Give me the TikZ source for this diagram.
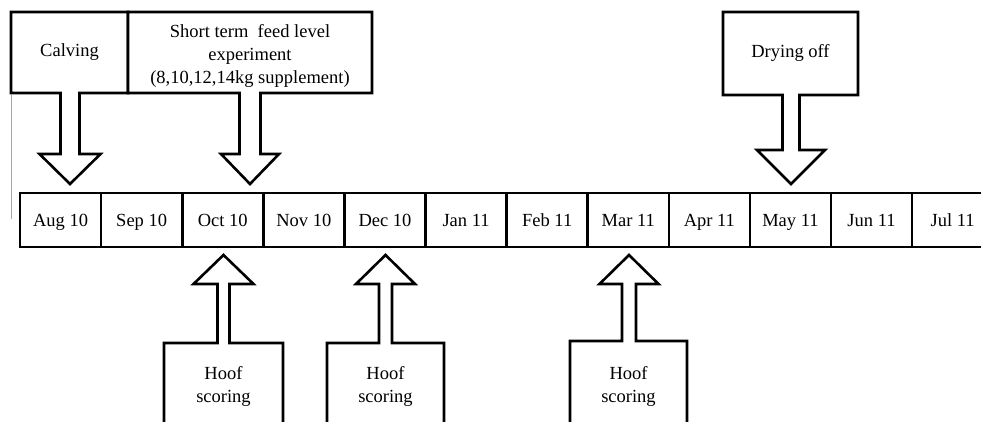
\documentclass[tikz,border=0pt]{standalone}
\usepackage{fontspec}
\setmainfont{Liberation Serif}
\begin{document}
\begin{tikzpicture}[x=1pt,y=-1pt,
  outline/.style={line width=2.6pt,line join=miter,draw=black,fill=white},
  cell/.style={draw=black,line width=2.6pt,minimum width=81.1pt,minimum height=54pt,inner sep=0pt,outer sep=0pt,anchor=west},
  lbl/.style={font=\fontsize{18.5}{23}\selectfont,align=center,inner sep=0pt},
  mlbl/.style={lbl,text height=12.5pt,text depth=4.5pt,yshift=-2.5pt},
  thin/.style={draw=gray!70,line width=1pt}]
\useasboundingbox (0,0) rectangle (981,422);
\clip (0,0) rectangle (981,422);
\fill[white] (0,0) rectangle (981,422);
% thin left line
\coordinate (t1) at (11.5,95);
\coordinate (t2) at (11.5,219);
\draw[thin] (t1) -- (t2);
% down callouts: L,R,T,B, cx, sw, hw, hb, ty
\newcommand{\downcall}[9]{%
  \draw[outline] (#1,#3) -- (#2,#3) -- (#2,#4) -- (#5+#6,#4) -- (#5+#6,#8) -- (#5+#7,#8) -- (#5,#9)
    -- (#5-#7,#8) -- (#5-#6,#8) -- (#5-#6,#4) -- (#1,#4) -- cycle;}
\newcommand{\upcall}[8]{%
  \draw[outline] (#1,430) -- (#1,#3) -- (#4-#5,#3) -- (#4-#5,#7) -- (#4-#6,#7) -- (#4,#8)
    -- (#4+#6,#7) -- (#4+#5,#7) -- (#4+#5,#3) -- (#2,#3) -- (#2,430);}
\downcall{11}{128}{12}{93}{70}{9.5}{30.5}{154}{184}
\downcall{128}{372}{12}{93}{250}{10.5}{29}{154}{184}
\downcall{723}{858}{12}{95}{791}{8.5}{34}{150}{184}
\upcall{164}{283}{343}{223.5}{6}{30}{284}{255}
\upcall{327}{444}{343}{385.5}{6.5}{29.5}{284}{255}
\upcall{570}{687}{341}{629}{7}{29.5}{284}{255}
% texts of callouts
\node[lbl] (calving) at (69.5,52.5) {Calving};
\node[lbl] (feed) at (250,56) {Short term\ \ feed level\\experiment\\(8,10,12,14kg supplement)};
\node[lbl] (dry) at (790.5,53) {Drying off};
\node[lbl] (hoof1) at (223.5,386) {Hoof\\scoring};
\node[lbl] (hoof2) at (385.5,386) {Hoof\\scoring};
\node[lbl] (hoof3) at (628.5,386) {Hoof\\scoring};
% timeline
\node[cell] (m1) at (20,220) {};
\node[cell] (m2) at (m1.east) {};
\node[cell] (m3) at (m2.east) {};
\node[cell] (m4) at (m3.east) {};
\node[cell] (m5) at (m4.east) {};
\node[cell] (m6) at (m5.east) {};
\node[cell] (m7) at (m6.east) {};
\node[cell] (m8) at (m7.east) {};
\node[cell] (m9) at (m8.east) {};
\node[cell] (m10) at (m9.east) {};
\node[cell] (m11) at (m10.east) {};
\node[cell] (m12) at (m11.east) {};
\node[mlbl] at (m1) {Aug 10};
\node[mlbl] at (m2) {Sep 10};
\node[mlbl] at (m3) {Oct 10};
\node[mlbl] at (m4) {Nov 10};
\node[mlbl] at (m5) {Dec 10};
\node[mlbl] at (m6) {Jan 11};
\node[mlbl] at (m7) {Feb 11};
\node[mlbl] at (m8) {Mar 11};
\node[mlbl] at (m9) {Apr 11};
\node[mlbl] at (m10) {May 11};
\node[mlbl] at (m11) {Jun 11};
\node[mlbl] at (m12) {Jul 11};
\end{tikzpicture}
\end{document}
